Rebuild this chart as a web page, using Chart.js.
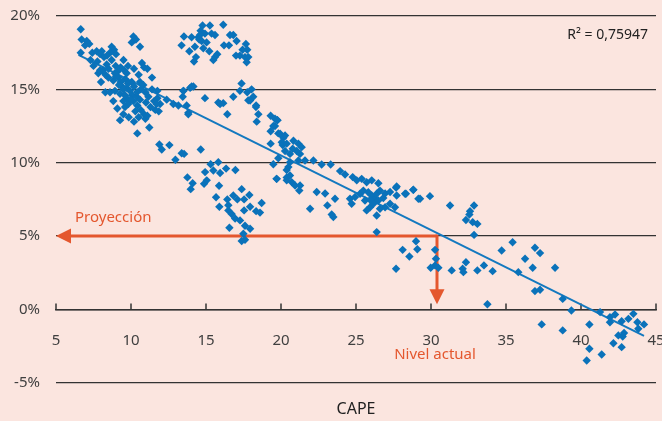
<!DOCTYPE html>
<html>
<head>
<meta charset="utf-8">
<script src="https://cdn.jsdelivr.net/npm/chart.js@4.4.1/dist/chart.umd.min.js"></script>
<style>
  html, body { margin: 0; padding: 0; background: #fbe5df; }
  #wrap { width: 662px; height: 421px; }
</style>
</head>
<body>
<div id="wrap"><canvas id="chart"></canvas></div>
<script>
const capeValues = [
  6.65, 6.71, 7.05, 7.22, 6.94, 6.65, 7.42, 7.71, 8.05, 7.94, 8.2, 8.71, 8.87, 8.6, 9.0, 10.16, 10.05, 10.33, 10.6,
  7.76, 7.82, 8.11, 8.38, 8.71, 8.98, 9.09, 9.31, 9.54, 9.16, 8.82, 9.31, 9.62, 9.4, 9.71, 9.93, 10.07, 9.71, 9.49,
  9.82, 10.16, 10.42, 10.29, 10.65, 10.87, 10.96, 11.09, 11.4, 10.51, 10.73, 10.87, 11.09, 10.6, 10.65, 10.96, 11.4,
  11.76, 11.76, 11.54, 11.94, 11.85, 11.62, 9.09, 8.82, 8.29, 10.42, 11.22, 9.49, 9.85, 10.2, 10.51, 9.27, 8.6, 8.93,
  9.27, 9.6, 10.38, 7.94, 8.49, 8.93, 9.71, 10.05, 10.82, 11.16, 12.38, 12.82, 13.16, 13.5, 13.45, 13.94, 14.16,
  13.71, 13.82,
  8.3, 8.5, 9.0, 9.2, 9.5, 9.8, 10.2, 10.4, 10.0, 9.6, 10.6, 11.0, 11.3, 8.0, 7.5, 7.3, 8.4, 9.5, 9.8, 10.2,
  14.77, 15.26, 16.15, 14.64, 14.93, 15.37, 15.6, 13.53, 14.04, 14.49, 14.71, 16.6, 16.82, 17.04, 13.37, 14.26,
  13.89, 14.82, 15.22, 16.2, 16.53, 17.66, 17.75, 17.44, 17.26, 17.0, 17.6, 17.82, 14.33, 14.2, 15.6, 15.75, 15.49,
  17.71, 14.6, 14.55, 15.04, 14.04, 13.49, 14.93, 15.82, 16.15, 16.82, 17.37, 17.26, 17.75, 18.04, 18.15, 17.82, 18.33,
  11.71, 13.82, 15.94, 16.42, 17.94, 18.34, 18.49, 18.38, 19.31, 19.76, 19.6, 19.31, 19.82, 20.16, 19.31, 20.11,
  20.27, 19.82, 19.49, 19.71, 20.38, 11.89, 12.05, 12.56, 13.38, 13.54, 14.65, 12.96, 15.31, 15.82, 15.49, 15.94,
  16.34, 16.96, 14.94, 13.76, 14.11, 13.98, 14.87, 15.05, 15.87, 15.67, 15.89, 16.42, 16.49, 16.49, 16.82, 17.09,
  17.38, 17.54, 17.89, 17.94, 17.54, 18.34, 18.71, 18.6, 16.71, 16.94, 17.27, 17.6, 17.94, 16.56, 17.49, 17.6, 17.38,
  19.6, 19.76, 19.49, 19.94, 20.27, 20.05, 20.38, 20.83, 21.16, 21.38, 21.05, 20.78, 20.6, 21.27, 21.16, 21.6, 22.16,
  22.71, 23.31, 20.6, 20.49, 20.38, 20.6, 19.71, 20.38, 20.71, 20.94, 21.27, 21.22, 23.94, 24.27, 24.78, 25.05, 25.38,
  25.71, 26.05, 26.49, 22.38, 22.94, 23.6, 21.94, 23.09, 23.38, 23.49, 24.6, 24.94, 25.27, 25.49, 25.82, 26.05, 26.27,
  26.49, 26.82, 26.94, 27.27, 27.67, 27.71, 27.27, 27.6, 26.94, 26.6, 25.94, 25.71, 26.38, 24.71, 26.16, 25.6, 25.94,
  26.38, 26.6, 28.27, 28.82, 29.16, 26.38,
  27.71, 28.33, 28.82, 29.27, 29.93, 31.27, 32.87, 32.6, 32.56, 32.33, 32.78, 33.09, 32.87, 29.0, 28.11, 29.09, 28.56,
  30.27, 30.33, 30.27, 29.98, 30.49, 27.67, 31.38, 32.11, 32.16, 32.33, 33.09, 33.53, 34.11, 33.76,
  35.44, 34.71, 36.27, 36.93, 37.27, 36.78, 35.82, 38.27, 36.93, 37.27, 38.78, 39.36, 37.38, 38.78, 40.56, 40.56,
  40.38, 41.38, 41.27, 41.93, 42.27, 41.93, 42.71, 43.16, 43.49, 43.76, 44.2, 43.82, 42.49, 42.78, 42.87, 42.16, 42.71
];
const returnValues = [
  19.1, 18.4, 18.3, 18.1, 18.0, 17.5, 17.5, 17.6, 17.6, 17.4, 17.2, 17.9, 17.7, 17.5, 17.4, 18.6, 18.2, 18.4, 17.9,
  16.9, 16.1, 16.3, 16.7, 17.0, 16.6, 16.2, 16.5, 16.3, 15.8, 15.6, 15.5, 15.7, 15.2, 15.1, 14.9, 14.6, 14.4, 14.2,
  14.0, 14.2, 13.9, 13.5, 13.6, 13.3, 13.0, 13.2, 15.8, 16.0, 16.8, 16.5, 16.4, 15.5, 15.0, 14.8, 15.0,
  14.9, 14.4, 14.2, 14.0, 13.5, 13.6, 13.7, 14.2, 14.8, 12.0, 12.4, 13.3, 13.1, 12.8, 13.1, 12.9, 14.8, 14.9,
  14.7, 14.6, 14.5, 16.3, 15.8, 16.1, 16.1, 15.5, 15.3, 14.5, 14.3, 14.0, 13.9, 14.9, 14.5, 15.1, 15.2,
  13.9, 13.4,
  16.0, 16.4, 15.9, 15.3, 15.0, 15.4, 15.2, 14.8, 14.3, 13.8, 14.3, 14.1, 13.8, 15.5, 16.6, 17.0, 17.3, 17.0, 16.6, 16.4,
  19.35, 19.35, 19.4, 19.0, 18.8, 18.8, 18.7, 18.6, 18.55, 18.55, 18.3, 18.7, 18.7, 18.3, 18.0, 17.9,
  17.6, 17.8, 17.6, 18.0, 18.0, 18.1, 17.7, 17.7, 17.3, 17.3, 17.2, 17.2, 17.2, 16.9, 17.2, 17.4, 17.0,
  16.85, 18.7, 18.4, 18.2, 15.2, 14.9, 14.4, 14.1, 14.06, 14.5, 15.4, 14.9, 14.8, 15.0, 14.5, 14.25, 13.8,
  14.0, 13.3, 14.0, 13.3, 14.24, 13.9, 13.3, 12.8, 13.2, 12.9, 12.5, 12.15, 12.0, 11.7, 11.3, 11.2,
  10.8, 10.3, 9.9, 8.9, 9.0, 11.24, 10.9, 11.2, 10.65, 10.6, 10.9, 10.2, 9.9, 10.04, 9.47, 9.3,
  9.6, 9.5, 9.36, 9.0, 8.6, 8.2, 8.56, 8.8, 8.43, 7.65, 7.0, 7.5, 7.1, 6.75, 7.77, 7.5,
  8.2, 7.5, 7.8, 7.0, 6.75, 6.7, 7.25, 6.6, 6.5, 6.2, 6.07, 5.7, 5.5, 5.57, 5.16, 4.75, 4.66,
  13.0, 12.9, 12.5, 11.97, 11.86, 11.4, 11.3, 11.5, 11.3, 11.06, 10.8, 10.95, 10.6, 10.6, 10.15, 10.15, 10.15,
  9.88, 9.88, 10.04, 9.7, 9.5, 9.13, 8.9, 8.8, 8.68, 8.45, 8.45, 8.1, 9.43, 9.2, 9.02, 8.8, 8.9,
  8.67, 8.8, 8.6, 8.0, 7.9, 7.54, 6.86, 7.09, 6.47, 6.3, 7.54, 7.66, 7.88, 8.1, 7.99, 7.77, 7.54,
  7.43, 7.6, 7.9, 8.0, 8.3, 7.77, 7.2, 6.97, 6.97, 6.86, 6.97, 6.75, 6.4, 7.2, 7.2, 7.43, 7.47,
  7.88, 8.1, 7.88, 8.16, 7.54, 5.27,
  8.38, 7.88, 8.15, 7.54, 7.72, 7.08, 7.08, 6.7, 6.47, 6.1, 5.95, 5.83, 5.08, 4.65, 4.06, 4.1, 3.61,
  4.06, 3.45, 3.0, 2.84, 2.84, 2.77, 2.66, 2.77, 2.54, 3.22, 2.66, 3.0, 2.61, 0.35,
  4.58, 4.02, 3.45, 4.2, 3.84, 2.84, 2.54, 2.84, 1.25, 1.34, 0.72, -0.07, -1.02, -1.43, -1.03, -2.68,
  -3.48, -3.07, -0.18, -0.53, -0.34, -0.87, -0.8, -0.64, -0.3, -0.87, -1.02, -1.32, -1.77, -1.84, -1.61, -2.3, -2.57
];

// linear trend as drawn in the picture
const trendCape = [6.5, 44.2];
const trendReturn = [17.35, -1.8];
const rSquaredLabel = 'R² = 0,75947';

const xTicks = [5, 10, 15, 20, 25, 30, 35, 40, 45];
const yTicks = [-5, 0, 5, 10, 15, 20];

// projection arrows
const projectionReturn = 5;
const currentCape = 30.4;
const arrowEndReturn = 0.35;

const blue = '#0a72ba';
const orange = '#e4572e';
const FONT = '"Noto Sans", sans-serif';

const overlay = {
  id: 'overlay',
  beforeDatasetsDraw(chart) {
    const { ctx, scales: { x, y }, chartArea } = chart;
    ctx.save();

    // small tick marks pointing up from the zero line
    const y0 = y.getPixelForValue(0);
    ctx.strokeStyle = '#333';
    ctx.lineWidth = 1.5;
    xTicks.forEach(t => {
      const px = x.getPixelForValue(t);
      ctx.beginPath();
      ctx.moveTo(px, y0);
      ctx.lineTo(px, y0 - 6);
      ctx.stroke();
    });

    // arrows
    const py = y.getPixelForValue(projectionReturn);
    const pxCur = x.getPixelForValue(currentCape);
    const pxLeft = x.getPixelForValue(xTicks[0]);
    const pyEnd = y.getPixelForValue(arrowEndReturn);
    ctx.strokeStyle = orange;
    ctx.fillStyle = orange;
    ctx.lineWidth = 3;
    ctx.beginPath();
    ctx.moveTo(pxCur, py);
    ctx.lineTo(pxLeft + 12, py);
    ctx.stroke();
    ctx.beginPath();
    ctx.moveTo(pxLeft, py);
    ctx.lineTo(pxLeft + 15, py - 7.5);
    ctx.lineTo(pxLeft + 15, py + 7.5);
    ctx.closePath();
    ctx.fill();

    ctx.beginPath();
    ctx.moveTo(pxCur, py - 1.5);
    ctx.lineTo(pxCur, pyEnd - 12);
    ctx.stroke();
    ctx.beginPath();
    ctx.moveTo(pxCur, pyEnd);
    ctx.lineTo(pxCur - 7.5, pyEnd - 15);
    ctx.lineTo(pxCur + 7.5, pyEnd - 15);
    ctx.closePath();
    ctx.fill();

    ctx.font = '15px ' + FONT;
    ctx.textBaseline = 'middle';
    ctx.textAlign = 'left';
    ctx.fillText('Proyección', pxLeft + 19, py - 18);
    ctx.textAlign = 'center';
    ctx.fillText('Nivel actual', pxCur - 2, y0 + 45);

    // R² text
    ctx.fillStyle = '#222';
    ctx.font = '14px ' + FONT;
    ctx.textAlign = 'right';
    ctx.fillText(rSquaredLabel, chartArea.right - 8, chartArea.top + 19);
    ctx.restore();
  }
};

const scatterPoints = capeValues.map((c, i) => ({ x: c, y: returnValues[i] }));
const trendPoints = trendCape.map((c, i) => ({ x: c, y: trendReturn[i] }));

new Chart(document.getElementById('chart'), {
  type: 'scatter',
  data: {
    datasets: [
      {
        data: scatterPoints,
        pointStyle: 'rectRot',
        pointRadius: 4.2,
        pointBorderWidth: 0,
        backgroundColor: blue,
        borderColor: blue,
      },
      {
        type: 'line',
        data: trendPoints,
        borderColor: '#1479bf',
        borderWidth: 2,
        pointRadius: 0,
        fill: false,
      }
    ]
  },
  options: {
    responsive: true,
    maintainAspectRatio: false,
    animation: false,
    layout: { padding: { top: 16, right: 6, left: 0, bottom: 0 } },
    plugins: {
      legend: { display: false },
      tooltip: { enabled: false },
      title: {
        display: true,
        text: 'CAPE',
        position: 'bottom',
        fullSize: false,
        color: '#222',
        font: { family: FONT, size: 16, weight: 'normal' },
        padding: { top: 17, bottom: 2 }
      }
    },
    scales: {
      x: {
        type: 'linear',
        position: { y: 0 },
        min: 5,
        max: 45,
        afterBuildTicks: s => { s.ticks = xTicks.map(v => ({ value: v })); },
        afterFit: s => { s.paddingLeft = 0; s.paddingRight = 0; },
        grid: { display: false },
        border: { display: true, color: '#333', width: 1.5 },
        ticks: { color: '#404040', padding: 14, font: { family: FONT, size: 15 } }
      },
      y: {
        min: -5,
        max: 20,
        afterBuildTicks: s => { s.ticks = yTicks.map(v => ({ value: v })); },
        afterFit: s => { s.width = 56; s.paddingTop = 0; s.paddingBottom = 0; },
        grid: { color: '#333', lineWidth: 1.2, drawTicks: false },
        border: { display: false },
        ticks: {
          color: '#404040',
          padding: 16,
          font: { family: FONT, size: 15 },
          callback: v => v + '%'
        }
      }
    }
  },
  plugins: [overlay]
});
</script>
</body>
</html>
